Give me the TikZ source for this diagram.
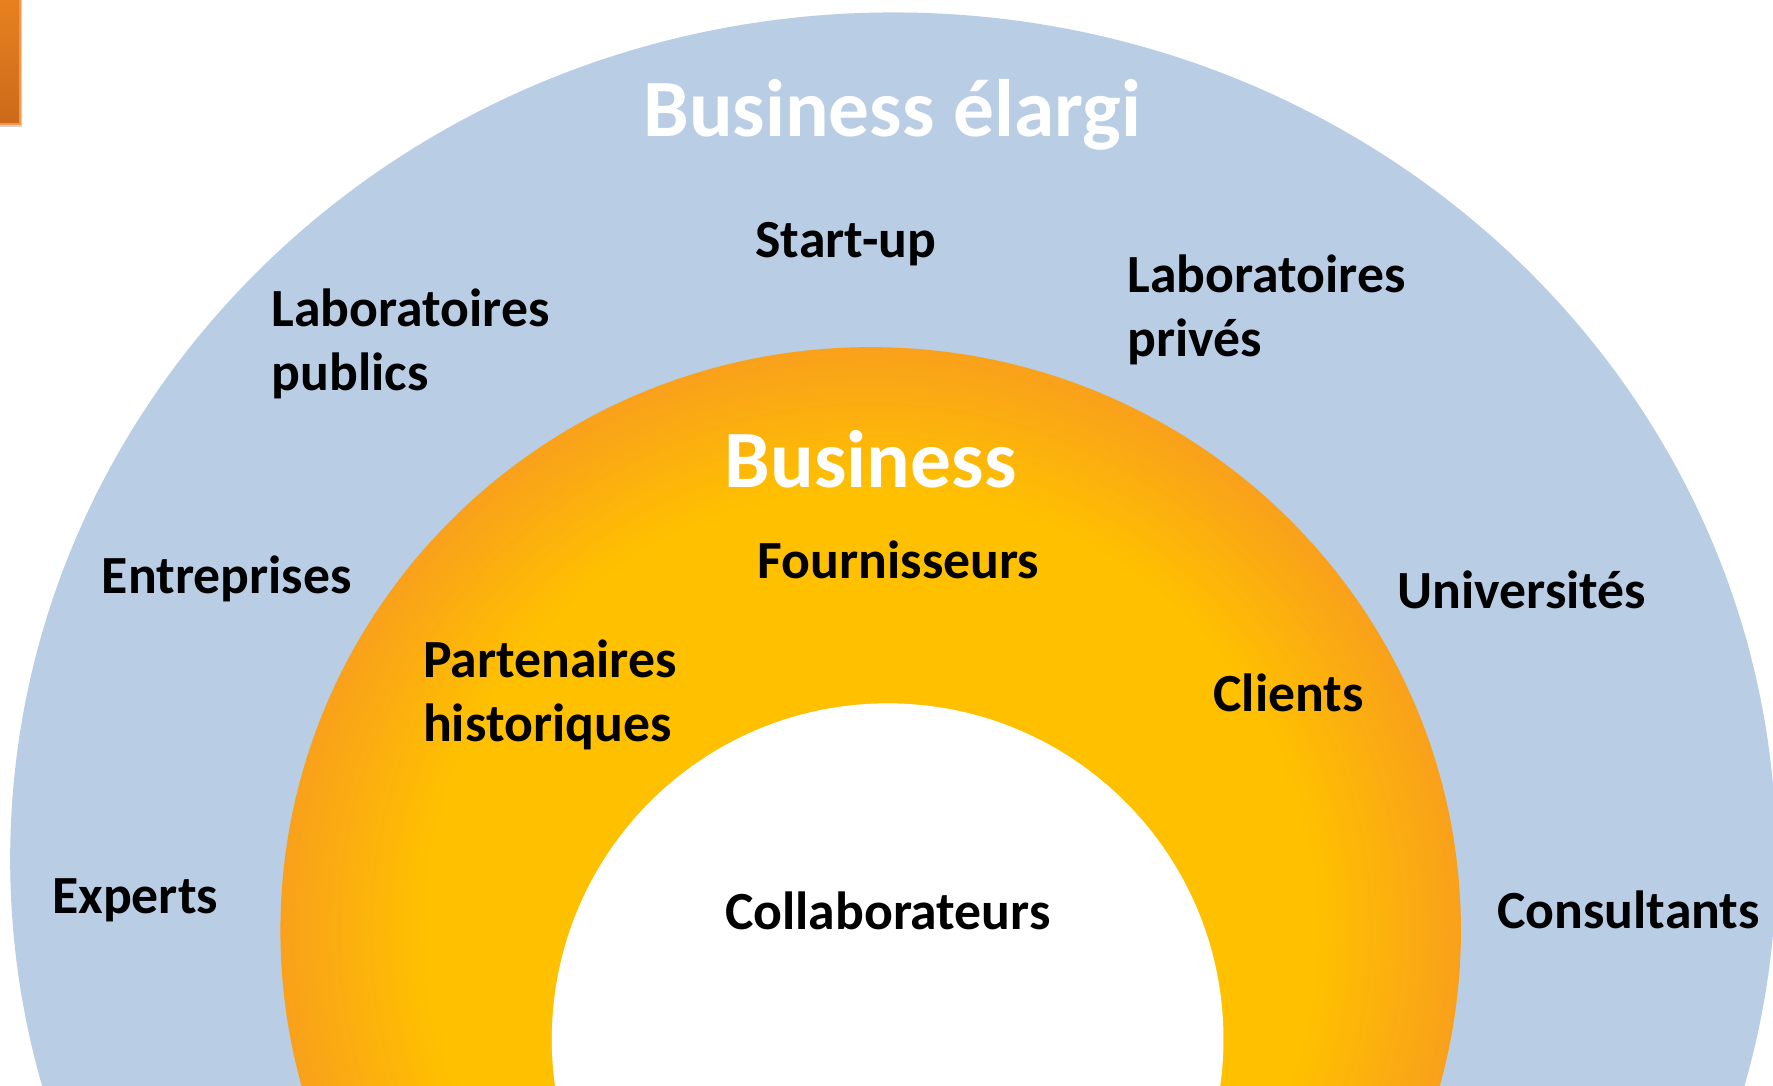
\documentclass[tikz,border=0pt]{standalone}
\usepackage{fontspec}
\setmainfont{Carlito}
\usetikzlibrary{shadows}
\definecolor{outerblue}{HTML}{B9CDE5}
\definecolor{ringY}{HTML}{FFC000}
\definecolor{ringO}{HTML}{F9A11B}
\definecolor{barTop}{HTML}{E8821F}
\definecolor{barBot}{HTML}{CC6A1B}
\definecolor{barEdge}{HTML}{F79646}
\begin{document}
\begin{tikzpicture}[x=1pt,y=-1pt,
  lbl/.style={font=\fontsize{47.5}{56.5}\selectfont\bfseries, text=black, inner sep=0pt, anchor=base west},
  ttl/.style={font=\fontsize{72}{80}\selectfont\bfseries, text=white, inner sep=0pt, anchor=base}]
\useasboundingbox (0,0) rectangle (1568,960);
\begin{scope}
  \clip (0,0) rectangle (1568,960);
  \fill[outerblue] (790,760) ellipse [x radius=781, y radius=749];
  % orange ring: radial gradient, orange at the rim to yellow inside
  \foreach \i in {0,...,40}{
    \pgfmathsetmacro\f{1-0.24*\i/40}
    \pgfmathsetmacro\p{100-2.5*\i}
    \fill[ringO!\p!ringY] (770,823) ellipse [x radius={522*\f}, y radius={516*\f}];
  }
  \fill[white] (785,919) ellipse [x radius=297, y radius=297];
\end{scope}
\path[draw=barEdge, line width=1.5pt, top color=barTop, bottom color=barBot,
      drop shadow={opacity=0.35, shadow xshift=2pt, shadow yshift=-3pt}]
  (-5,-5) rectangle (17.5,109.5);
% titles
\node[ttl] (belargi) at (789,121) {Business élargi};
\node[ttl] (bus) at (770,431) {Business};
% outer ring labels
\node[lbl] (startup) at (668,228) {Start-up};
\node[lbl, align=left] (labpub) at (240,345.5) {Laboratoires\\publics};
\node[lbl, align=left] (labpriv) at (997,315) {Laboratoires\\privés};
\node[lbl] (entr) at (90,525) {Entreprises};
\node[lbl] (univ) at (1236,538) {Universités};
\node[lbl] (exp) at (46,808) {Experts};
\node[lbl] (cons) at (1324,821) {Consultants};
% inner ring labels
\node[lbl] (fourn) at (670,512) {Fournisseurs};
\node[lbl, align=left] (part) at (374,655.5) {Partenaires\\historiques};
\node[lbl] (cli) at (1073,629) {Clients};
\node[lbl] (collab) at (641,822) {Collaborateurs};
\end{tikzpicture}
\end{document}
